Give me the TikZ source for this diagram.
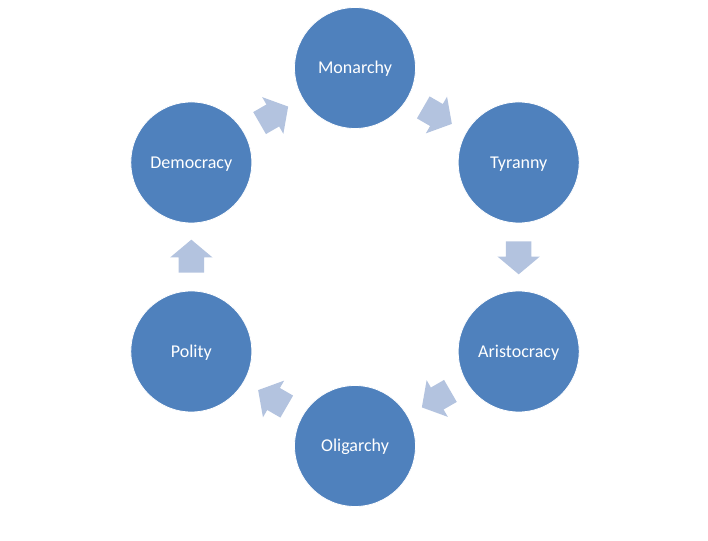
\documentclass[tikz,border=0pt]{standalone}
\usepackage{fontspec}
\setmainfont{Carlito}
\usetikzlibrary{shapes.arrows,calc}
\definecolor{circblue}{HTML}{4F81BD}
\definecolor{arrblue}{HTML}{B3C3DF}
\begin{document}
\begin{tikzpicture}[x=1pt,y=1pt,
  stage/.style={circle, fill=circblue, draw=white, line width=0.8pt, minimum size=121pt, inner sep=0pt, text=white, text height=11.6pt, text depth=0pt, font=\fontsize{18}{21}\selectfont},
  arr/.style={single arrow, fill=arrblue, draw=none, minimum height=33pt, minimum width=42pt, single arrow head extend=8.5pt, single arrow tip angle=100, inner xsep=0pt, inner ysep=12.5pt, outer sep=0pt}]
\useasboundingbox (0,0) rectangle (708,540);
\coordinate (c) at (355,283);
\node[stage] (mon) at ($(c)+(90:189)$) {Monarchy};
\node[stage] (tyr) at ($(c)+(30:189)$) {Tyranny};
\node[stage] (ari) at ($(c)+(-30:189)$) {Aristocracy};
\node[stage] (oli) at ($(c)+(-90:189)$) {Oligarchy};
\node[stage] (pol) at ($(c)+(-150:189)$) {Polity};
\node[stage] (dem) at ($(c)+(150:189)$) {Democracy};
\node[arr, rotate=-30] (a1) at ($($(mon)!0.5!(tyr)$)!4.5pt!(mon)$) {};
\node[arr, rotate=-90] (a2) at ($($(tyr)!0.5!(ari)$)!4.5pt!(tyr)$) {};
\node[arr, rotate=-150] (a3) at ($($(ari)!0.5!(oli)$)!4.5pt!(ari)$) {};
\node[arr, rotate=150] (a4) at ($($(oli)!0.5!(pol)$)!4.5pt!(oli)$) {};
\node[arr, rotate=90] (a5) at ($($(pol)!0.5!(dem)$)!4.5pt!(pol)$) {};
\node[arr, rotate=30] (a6) at ($($(dem)!0.5!(mon)$)!4.5pt!(dem)$) {};
\end{tikzpicture}
\end{document}
